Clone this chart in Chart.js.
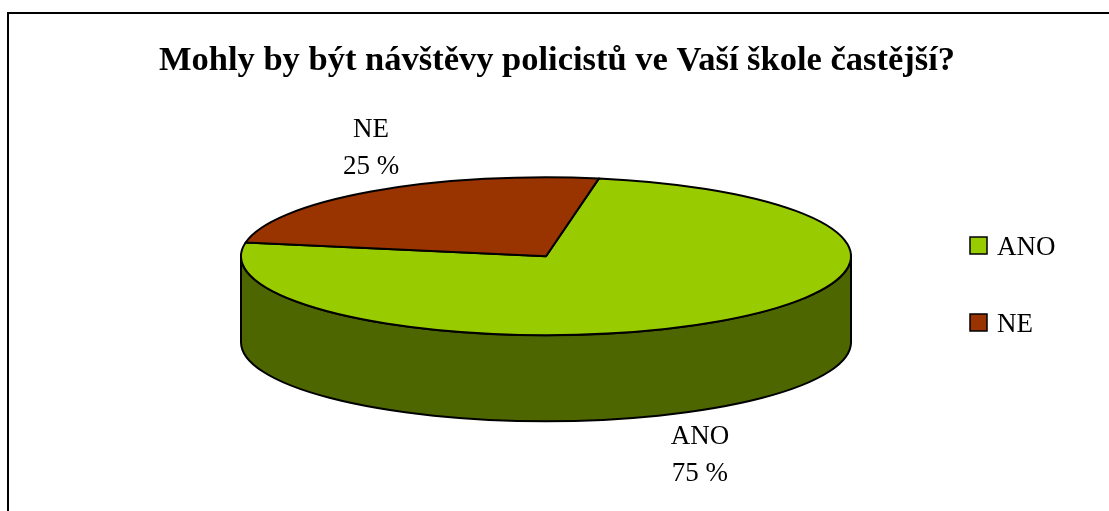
<!DOCTYPE html>
<html>
<head>
<meta charset="utf-8">
<title>Mohly by být návštěvy policistů ve Vaší škole častější?</title>
<script src="https://cdn.jsdelivr.net/npm/chart.js@4.4.1/dist/chart.umd.min.js"></script>
<style>
  html, body { margin: 0; padding: 0; background: #fff; overflow: hidden; }
  canvas { display: block; }
</style>
</head>
<body>
<canvas id="chart" width="1109" height="511"></canvas>
<script>
const titleText = 'Mohly by být návštěvy policistů ve Vaší škole častější?';
const categories = ['ANO', 'NE'];
const shares = [75, 25];
const topColors = ['#99CC00', '#993300'];
const sideColors = ['#4D6600', '#4D1A00'];

const serif = '"Liberation Serif", "Times New Roman", serif';
const TILT = 0.259;      // vertical squash of the pie top
const DEPTH = 86;        // height of the pie wall, px
const SHIFT_X = -11;     // pie sits a bit left of the plot centre

// 3D look: the pie is drawn from the arc elements that Chart.js lays out
const pie3d = {
  id: 'pie3d',
  beforeDraw(chart) {
    const ctx = chart.ctx;
    ctx.save();
    ctx.fillStyle = '#fff';
    ctx.fillRect(0, 0, chart.width, chart.height);
    ctx.strokeStyle = '#000';
    ctx.lineWidth = 2;
    ctx.strokeRect(8, 13, chart.width + 50, chart.height + 50);
    ctx.restore();
  },
  beforeDatasetsDraw(chart) {
    const ctx = chart.ctx;
    const arcs = chart.getDatasetMeta(0).data;
    if (!arcs.length) return false;
    const cx = arcs[0].x + SHIFT_X;
    const cy = arcs[0].y;
    const rx = arcs[0].outerRadius;
    const ry = rx * TILT;

    ctx.save();
    ctx.lineWidth = 2;
    ctx.lineJoin = 'round';
    ctx.strokeStyle = '#000';

    // front wall
    arcs.forEach((arc, i) => {
      for (const k of [-2, 0, 2]) {
        const a = Math.max(arc.startAngle, k * Math.PI);
        const b = Math.min(arc.endAngle, (k + 1) * Math.PI);
        if (b <= a) continue;
        ctx.beginPath();
        ctx.ellipse(cx, cy, rx, ry, 0, a, b, false);
        ctx.ellipse(cx, cy + DEPTH, rx, ry, 0, b, a, true);
        ctx.closePath();
        ctx.fillStyle = sideColors[i];
        ctx.fill();
        ctx.stroke();
      }
    });

    // top face
    arcs.forEach((arc, i) => {
      ctx.beginPath();
      ctx.moveTo(cx, cy);
      ctx.ellipse(cx, cy, rx, ry, 0, arc.startAngle, arc.endAngle, false);
      ctx.closePath();
      ctx.fillStyle = topColors[i];
      ctx.fill();
      ctx.stroke();
    });
    ctx.restore();
    return false;
  },
  afterDraw(chart) {
    const ctx = chart.ctx;
    const arcs = chart.getDatasetMeta(0).data;
    const cx = arcs[0].x + SHIFT_X;
    const cy = arcs[0].y;
    const rx = arcs[0].outerRadius;
    const ry = rx * TILT;
    const total = shares.reduce((s, v) => s + v, 0);

    ctx.save();
    ctx.fillStyle = '#000';
    ctx.font = '27px ' + serif;
    ctx.textAlign = 'center';
    ctx.textBaseline = 'alphabetic';

    // data labels
    arcs.forEach((arc, i) => {
      const mid = (arc.startAngle + arc.endAngle) / 2;
      const up = Math.sin(mid) < 0;
      const px = cx + rx * Math.cos(mid) * (up ? 1 : 0.88);
      const py = cy + ry * Math.sin(mid);
      const pct = Math.round(shares[i] / total * 100) + ' %';
      let base1;
      if (up) {
        base1 = py - 18 - 36;
      } else {
        base1 = py + DEPTH + 37;
      }
      ctx.fillText(categories[i], px, base1);
      ctx.fillText(pct, px, base1 + 37);
    });

    // legend
    const lx = 970, ly = 237, gap = 77, box = 17;
    ctx.textAlign = 'left';
    categories.forEach((name, i) => {
      const y = ly + i * gap;
      ctx.fillStyle = topColors[i];
      ctx.fillRect(lx, y, box, box);
      ctx.lineWidth = 1.5;
      ctx.strokeStyle = '#000';
      ctx.strokeRect(lx, y, box, box);
      ctx.fillStyle = '#000';
      ctx.fillText(name, lx + box + 10, y + box + 1);
    });
    ctx.restore();
  }
};

new Chart(document.getElementById('chart'), {
  type: 'pie',
  data: {
    labels: categories,
    datasets: [{
      data: shares,
      backgroundColor: topColors,
      borderColor: '#000',
      borderWidth: 0,
      radius: 305
    }]
  },
  options: {
    responsive: false,
    animation: false,
    events: [],
    rotation: 10,
    layout: { padding: { left: 5, right: 0, top: 0, bottom: 88 } },
    plugins: {
      legend: { display: false },
      tooltip: { enabled: false },
      title: {
        display: true,
        text: titleText,
        color: '#000',
        font: { family: serif, size: 34.5, weight: 'bold' },
        padding: { top: 40, bottom: 8 }
      }
    }
  },
  plugins: [pie3d]
});
</script>
</body>
</html>
